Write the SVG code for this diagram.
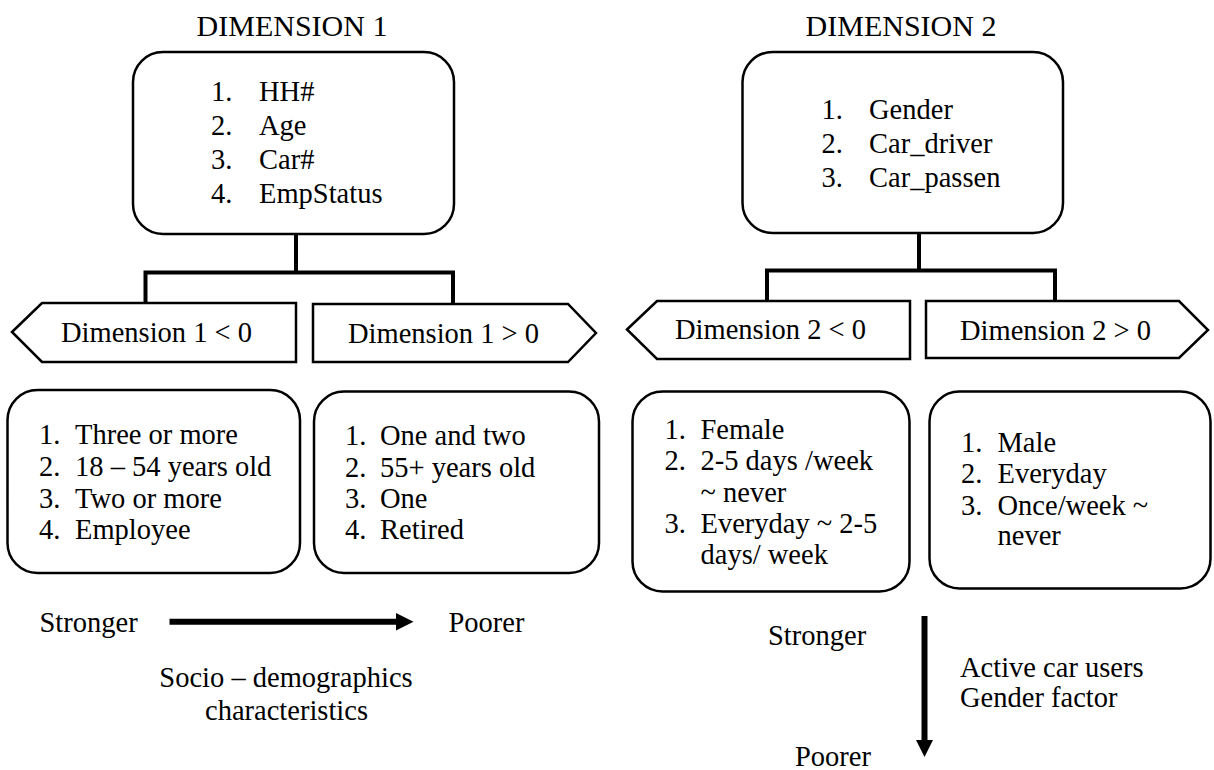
<svg xmlns="http://www.w3.org/2000/svg" width="1214" height="770" viewBox="0 0 1214 770">
  <style>
    text { font-family: "Liberation Serif", "Times New Roman", serif; fill: #000; }
    .title { font-size: 30px; text-anchor: middle; }
    .t { font-size: 28.5px; }
    .mid { text-anchor: middle; }
    .box { fill: #fff; stroke: #000; stroke-width: 2.5; }
    .tag { fill: #fff; stroke: #000; stroke-width: 2.5; stroke-linejoin: miter; }
    .link { fill: none; stroke: #000; stroke-width: 4; stroke-linecap: square; }
  </style>
  <rect width="1214" height="770" fill="#fff"/>

  <!-- tree connectors -->
  <g id="connectors">
    <path class="link" d="M296,235 V272.5 M145.5,302 V272.5 H453 V302"/>
    <path class="link" d="M919,234 V270.5 M767,300 V270.5 H1055 V300"/>
  </g>

  <!-- Dimension 1 -->
  <text class="title" x="292" y="36">DIMENSION 1</text>
  <g id="dim1-variables">
    <rect class="box" x="133" y="52" width="321" height="182" rx="30"/>
    <text class="t" x="211" y="101">1.</text><text class="t" x="259" y="101">HH#</text>
    <text class="t" x="211" y="135">2.</text><text class="t" x="259" y="135">Age</text>
    <text class="t" x="211" y="169">3.</text><text class="t" x="259" y="169">Car#</text>
    <text class="t" x="211" y="203">4.</text><text class="t" x="259" y="203">EmpStatus</text>
  </g>
  <g id="dim1-negative">
    <polygon class="tag" points="12,332 42,303 296,303 296,362 42,362"/>
    <text class="t" x="61" y="342">Dimension 1 &lt; 0</text>
  </g>
  <g id="dim1-positive">
    <polygon class="tag" points="313,304 568,304 596,333 568,362 313,362"/>
    <text class="t" x="348" y="343">Dimension 1 &gt; 0</text>
  </g>
  <g id="dim1-negative-levels">
    <rect class="box" x="7.5" y="390" width="292.5" height="183" rx="30"/>
    <text class="t" x="39" y="444">1.</text><text class="t" x="75" y="444">Three or more</text>
    <text class="t" x="39" y="476">2.</text><text class="t" x="75" y="476">18 – 54 years old</text>
    <text class="t" x="39" y="507.5">3.</text><text class="t" x="75" y="507.5">Two or more</text>
    <text class="t" x="39" y="538.5">4.</text><text class="t" x="75" y="538.5">Employee</text>
  </g>
  <g id="dim1-positive-levels">
    <rect class="box" x="314" y="391.5" width="285" height="181.5" rx="30"/>
    <text class="t" x="345" y="445">1.</text><text class="t" x="380" y="445">One and two</text>
    <text class="t" x="345" y="476.5">2.</text><text class="t" x="380" y="476.5">55+ years old</text>
    <text class="t" x="345" y="508">3.</text><text class="t" x="380" y="508">One</text>
    <text class="t" x="345" y="539">4.</text><text class="t" x="380" y="539">Retired</text>
  </g>
  <g id="dim1-scale">
    <text class="t" x="39.5" y="632">Stronger</text>
    <line x1="169.5" y1="621.7" x2="397" y2="621.7" stroke="#000" stroke-width="6"/>
    <polygon points="396,613 413.5,621.7 396,630.4" fill="#000"/>
    <text class="t" x="448.5" y="632">Poorer</text>
    <text class="t mid" x="286" y="687">Socio – demographics</text>
    <text class="t mid" x="286.5" y="720">characteristics</text>
  </g>

  <!-- Dimension 2 -->
  <text class="title" x="901" y="36">DIMENSION 2</text>
  <g id="dim2-variables">
    <rect class="box" x="742.5" y="52" width="320.5" height="181" rx="30"/>
    <text class="t" x="821.5" y="118.5">1.</text><text class="t" x="869" y="118.5">Gender</text>
    <text class="t" x="821.5" y="152.5">2.</text><text class="t" x="869" y="152.5">Car_driver</text>
    <text class="t" x="821.5" y="186.5">3.</text><text class="t" x="869" y="186.5">Car_passen</text>
  </g>
  <g id="dim2-negative">
    <polygon class="tag" points="627,329.5 657,301 910,301 910,359 657,359"/>
    <text class="t" x="675" y="339">Dimension 2 &lt; 0</text>
  </g>
  <g id="dim2-positive">
    <polygon class="tag" points="926,301 1179,301 1208,330 1179,358 926,358"/>
    <text class="t" x="960" y="340">Dimension 2 &gt; 0</text>
  </g>
  <g id="dim2-negative-levels">
    <rect class="box" x="632.5" y="391.5" width="277" height="200" rx="30"/>
    <text class="t" x="664.5" y="438.5">1.</text><text class="t" x="700.5" y="438.5">Female</text>
    <text class="t" x="664.5" y="470">2.</text><text class="t" x="700.5" y="470">2-5 days /week</text>
    <text class="t" x="700.5" y="501.5">~ never</text>
    <text class="t" x="664.5" y="533">3.</text><text class="t" x="700.5" y="533">Everyday ~ 2-5</text>
    <text class="t" x="700.5" y="563.5">days/ week</text>
  </g>
  <g id="dim2-positive-levels">
    <rect class="box" x="929.5" y="391.5" width="281" height="197" rx="30"/>
    <text class="t" x="961" y="451.5">1.</text><text class="t" x="997.5" y="451.5">Male</text>
    <text class="t" x="961" y="483">2.</text><text class="t" x="997.5" y="483">Everyday</text>
    <text class="t" x="961" y="515">3.</text><text class="t" x="997.5" y="515">Once/week ~</text>
    <text class="t" x="997.5" y="545">never</text>
  </g>
  <g id="dim2-scale">
    <text class="t" x="768" y="644.5">Stronger</text>
    <line x1="924.5" y1="616" x2="924.5" y2="741" stroke="#000" stroke-width="6"/>
    <polygon points="916,740 933,740 924.5,757" fill="#000"/>
    <text class="t" x="795" y="766">Poorer</text>
    <text class="t" x="960" y="677">Active car users</text>
    <text class="t" x="960" y="707">Gender factor</text>
  </g>
</svg>
